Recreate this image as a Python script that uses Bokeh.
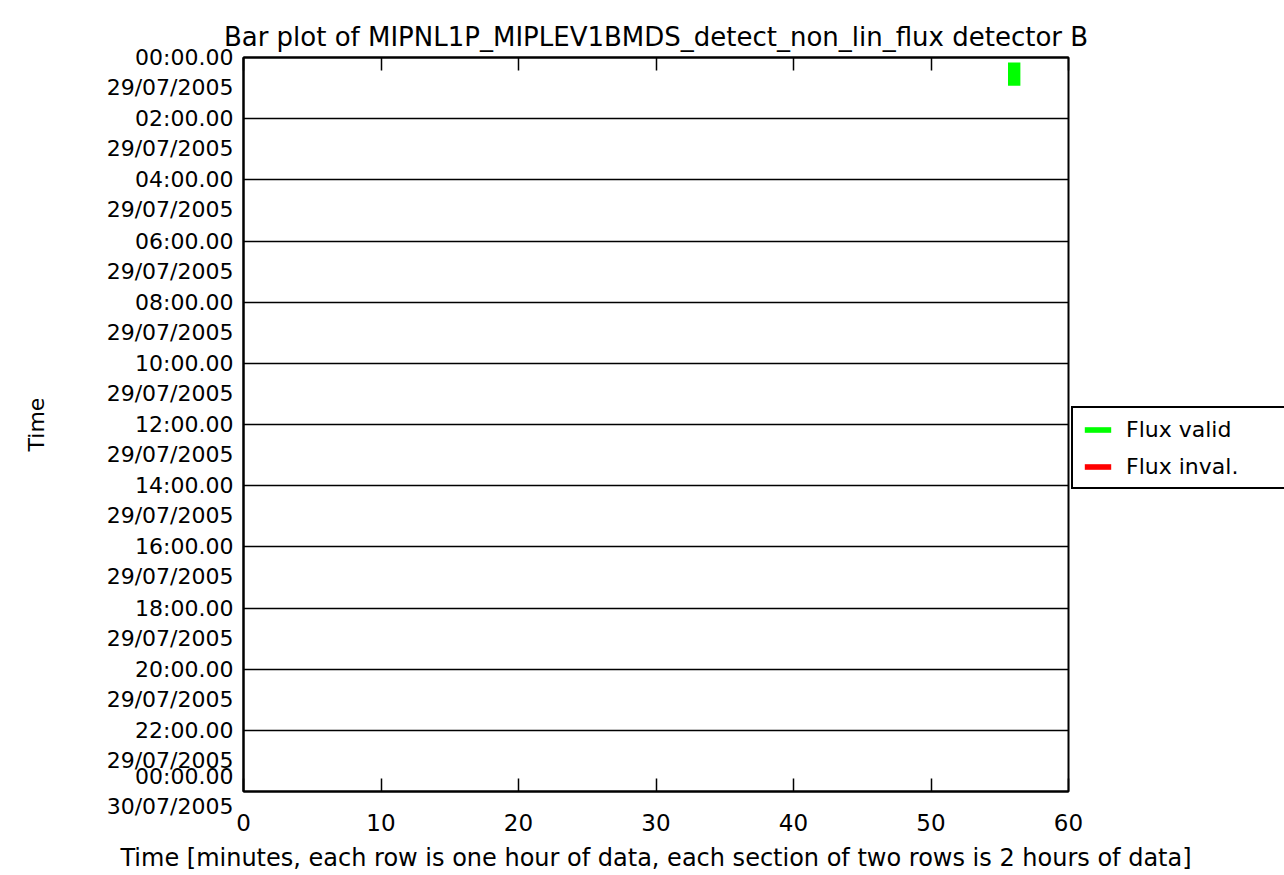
from bokeh.plotting import figure
from bokeh.models import Range1d, FixedTicker, LinearAxis, Legend, LegendItem
from bokeh.embed import file_html
from bokeh.resources import INLINE

# ---------------- data ----------------
title_text = "Bar plot of MIPNL1P_MIPLEV1BMDS_detect_non_lin_flux detector B"
x_label = "Time [minutes, each row is one hour of data, each section of two rows is 2 hours of data]"
y_label = "Time"

section_hours = [0, 2, 4, 6, 8, 10, 12, 14, 16, 18, 20, 22, 24]
section_times = ["00:00.00", "02:00.00", "04:00.00", "06:00.00", "08:00.00", "10:00.00",
                 "12:00.00", "14:00.00", "16:00.00", "18:00.00", "20:00.00", "22:00.00",
                 "00:00.00"]
section_dates = ["29/07/2005"] * 12 + ["30/07/2005"]
minute_ticks = [0, 10, 20, 30, 40, 50, 60]

# bars: hour row, start minute, end minute
valid_hour = [0]
valid_start = [55.6]
valid_end = [56.5]
inval_hour = []
inval_start = []
inval_end = []

FONT = "DejaVu Sans"
ROW_TOP_PAD = 0.16
ROW_BOT_PAD = 0.92
NAN = float("nan")

# ---------------- figure ----------------
p = figure(frame_width=825, frame_height=734, output_backend="svg", toolbar_location=None,
           x_range=Range1d(0, 60), y_range=Range1d(24, 0),
           min_border_left=243, min_border_right=214, min_border_top=57, min_border_bottom=83,
           title=title_text)

p.title.align = "center"
p.title.text_font = FONT
p.title.text_font_size = "26px"
p.title.text_font_style = "normal"
p.title.text_color = "black"
p.title.standoff = 12

p.outline_line_color = "black"
p.outline_line_width = 2
p.outline_line_alpha = 1

# bars
r_valid = p.quad(left=valid_start, right=valid_end,
                 top=[h + ROW_TOP_PAD for h in valid_hour],
                 bottom=[h + ROW_BOT_PAD for h in valid_hour],
                 fill_color="#00ff00", line_color=None)
r_inval = p.quad(left=inval_start, right=inval_end,
                 top=[h + ROW_TOP_PAD for h in inval_hour],
                 bottom=[h + ROW_BOT_PAD for h in inval_hour],
                 fill_color="#ff0000", line_color=None)
# legend key for the (empty) invalid series (no visible mark)
r_inval_key = p.quad(left=[NAN], right=[NAN], top=[NAN], bottom=[NAN],
                     fill_color="#ff0000", line_color=None)

# grids
p.xgrid.visible = False
p.ygrid.ticker = FixedTicker(ticks=section_hours)
p.ygrid.grid_line_color = "black"
p.ygrid.grid_line_width = 1.5
p.ygrid.grid_line_alpha = 1

# x axis (bottom)
xa = p.xaxis[0]
xa.ticker = FixedTicker(ticks=minute_ticks)
xa.axis_label = x_label
xa.axis_label_text_font = FONT
xa.axis_label_text_font_size = "24px"
xa.axis_label_text_font_style = "normal"
xa.axis_label_text_color = "black"
xa.axis_label_standoff = 10
xa.major_label_text_font = FONT
xa.major_label_text_font_size = "23px"
xa.major_label_text_color = "black"
xa.major_label_standoff = 22
xa.major_tick_in = 13
xa.major_tick_out = 0
xa.minor_tick_in = 0
xa.minor_tick_out = 0
xa.axis_line_width = 2
xa.major_tick_line_width = 1.5

# x axis (top, ticks only)
xt = LinearAxis(ticker=FixedTicker(ticks=minute_ticks),
                major_label_overrides={t: "" for t in minute_ticks},
                major_tick_in=13, major_tick_out=0, minor_tick_in=0, minor_tick_out=0,
                axis_line_width=2, major_tick_line_width=1.5, major_label_standoff=0)
p.add_layout(xt, "above")

# y axis: first line (time) at the section boundary, date below it
labels = {}
n = len(section_hours)
for i, (h, t, d) in enumerate(zip(section_hours, section_times, section_dates)):
    if i == n - 1:
        labels[h] = t + "\n" + d
    else:
        labels[h] = " \n" + t + "\n" + d
ya = p.yaxis[0]
ya.ticker = FixedTicker(ticks=section_hours)
ya.major_label_overrides = labels
ya.major_label_text_font = FONT
ya.major_label_text_font_size = "22px"
ya.major_label_text_color = "black"
ya.major_label_standoff = 10
ya.major_tick_in = 0
ya.major_tick_out = 0
ya.minor_tick_in = 0
ya.minor_tick_out = 0
ya.axis_line_width = 2
ya.axis_label = y_label
ya.axis_label_text_font = FONT
ya.axis_label_text_font_size = "22px"
ya.axis_label_text_font_style = "normal"
ya.axis_label_text_color = "black"
ya.axis_label_standoff = 55

# legend (right side panel)
legend = Legend(items=[LegendItem(label="Flux valid", renderers=[r_valid]),
                       LegendItem(label="Flux inval.", renderers=[r_inval_key])],
                location=(3, 302), margin=0, padding=8, spacing=11,
                glyph_width=33, glyph_height=7, label_height=26, label_width=154,
                label_standoff=12, label_text_font=FONT, label_text_font_size="22px",
                label_text_color="black",
                border_line_color="black", border_line_width=2, border_line_alpha=1,
                background_fill_color="white", background_fill_alpha=1)
p.add_layout(legend, "right")

open("out.html", "w").write(file_html(p, INLINE))
